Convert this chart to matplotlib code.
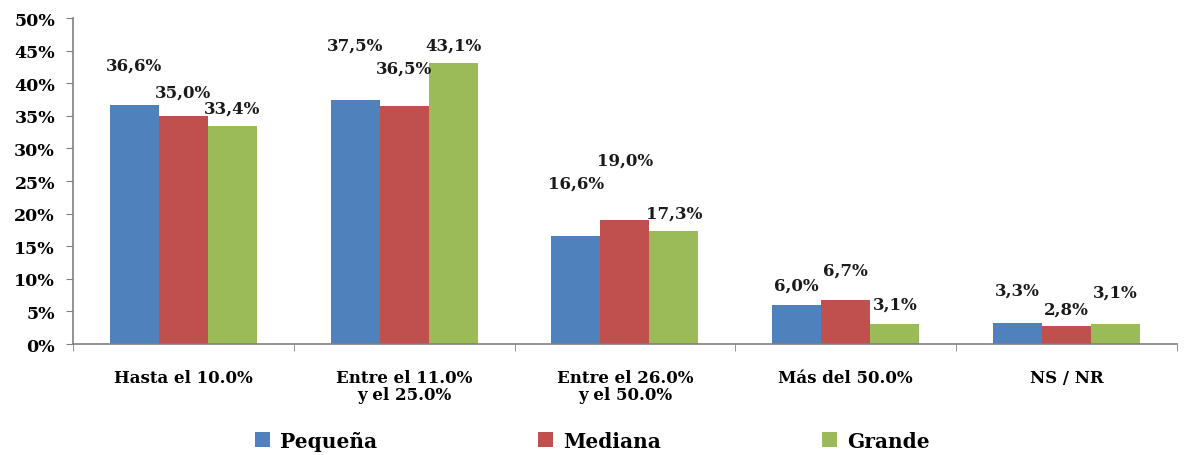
import matplotlib.pyplot as plt
import numpy as np

# Datos
categorias = ['Hasta el 10.0%', 'Entre el 11.0%\ny el 25.0%', 'Entre el 26.0%\ny el 50.0%',
              'Más del 50.0%', 'NS / NR']
series = ['Pequeña', 'Mediana', 'Grande']
pequena = [36.6, 37.5, 16.6, 6.0, 3.3]
mediana = [35.0, 36.5, 19.0, 6.7, 2.8]
grande = [33.4, 43.1, 17.3, 3.1, 3.1]

colores = ['#4F81BD', '#C0504D', '#9BBB59']
# desplazamiento vertical de las etiquetas (puntos)
desp = [[23, 33, 32, 8, 17],
        [11, 21, 37, 16, 6],
        [7, 7, 7, 8, 17]]

plt.rcParams['font.family'] = 'DejaVu Serif'
plt.rcParams['font.weight'] = 'bold'

fig = plt.figure(figsize=(11.85, 4.56), dpi=100)
ax = fig.add_axes([0.0616, 0.2434, 0.9316, 0.7146])

x = np.arange(len(categorias))
ancho = 0.222
valores = [pequena, mediana, grande]
for i, (nombre, vals) in enumerate(zip(series, valores)):
    pos = x + (i - 1) * ancho
    ax.bar(pos, vals, ancho, color=colores[i], label=nombre)
    for xp, v, d in zip(pos, vals, desp[i]):
        ax.annotate(f'{v:.1f}%'.replace('.', ','), (xp, v), xytext=(0, d),
                    textcoords='offset points', ha='center', va='bottom',
                    fontsize=12, fontweight='bold', color='#1a1a1a')

ax.set_xlim(-0.5, len(categorias) - 0.5)
ax.set_ylim(0, 50)
ax.set_yticks(np.arange(0, 51, 5))
ax.set_yticklabels([f'{t}%' for t in range(0, 51, 5)])
ax.set_xticks(x)
ax.set_xticklabels(categorias, fontsize=12, linespacing=1.0)
ax.set_xticks(np.arange(-0.5, len(categorias), 1), minor=True)
ax.tick_params(axis='x', which='major', length=0, pad=18)
ax.tick_params(axis='x', which='minor', length=5, color='#808080', direction='out')
ax.tick_params(axis='y', length=5, color='#808080', labelsize=12.5, pad=8)
for s in ['top', 'right']:
    ax.spines[s].set_visible(False)
for s in ['left', 'bottom']:
    ax.spines[s].set_color('#808080')
    ax.spines[s].set_linewidth(1.2)

fig.legend(loc='lower center', ncol=3, frameon=False, bbox_to_anchor=(0.5, -0.03),
           prop={'size': 14.5, 'weight': 'bold'}, handlelength=0.75, handleheight=0.75,
           columnspacing=8.0, handletextpad=0.5)

fig.savefig('out.png', dpi=100)
